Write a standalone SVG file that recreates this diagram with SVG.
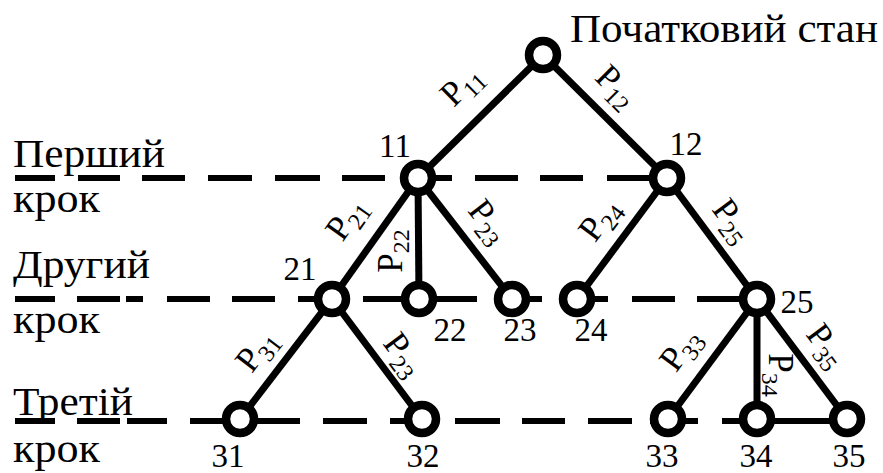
<svg xmlns="http://www.w3.org/2000/svg" width="883" height="473" viewBox="0 0 883 473">
<style>
.lvl{fill:none;stroke:#000;stroke-width:6}
.edge{fill:none;stroke:#000;stroke-width:7}
.node{fill:#fff;stroke:#000;stroke-width:8.5}
.t{font-family:"Liberation Serif","Times New Roman",serif;fill:#000}
.big{font-size:39px}
.num{font-size:33px;text-anchor:middle}
.p{font-size:35px;text-anchor:middle}
.sub{font-size:24px}
</style>
<rect width="883" height="473" fill="#fff"/>
<g id="levels">
<path class="lvl" d="M15 178H55M78 178H120M142 178H185M208 178H252M275 178H320M342 178H385M408 178H452M475 178H518M540 178H583M607 178H667"/>
<path class="lvl" d="M15 299H55M77 299H120M126 299H143M167 299H210M232 299H275M298 299H332M363 299H419M419 299H477M512 299H542M577 299H608M632 299H675M697 299H757"/>
<path class="lvl" d="M15 421H55M77 421H120M127 421H167M190 421H240M240 421H300M323 421H367M390 421H422M455 421H500M522 421H565M588 421H632M650 421H698M722 421H757M757 421H847"/>
</g>
<g id="connectors">
<line class="edge" x1="543" y1="55" x2="418" y2="178"/>
<line class="edge" x1="543" y1="55" x2="667" y2="178"/>
<line class="edge" x1="418" y1="178" x2="332" y2="299"/>
<line class="edge" x1="418" y1="178" x2="419" y2="299"/>
<line class="edge" x1="418" y1="178" x2="512" y2="299"/>
<line class="edge" x1="667" y1="178" x2="577" y2="299"/>
<line class="edge" x1="667" y1="178" x2="757" y2="299"/>
<line class="edge" x1="332" y1="299" x2="240" y2="419"/>
<line class="edge" x1="332" y1="299" x2="422" y2="419"/>
<line class="edge" x1="757" y1="299" x2="668" y2="419"/>
<line class="edge" x1="757" y1="299" x2="757" y2="419"/>
<line class="edge" x1="757" y1="299" x2="847" y2="419"/>
<text class="t p" transform="translate(469,93) rotate(-44.5)">P<tspan class="sub" dy="7">11</tspan></text>
<text class="t p" transform="translate(609,94) rotate(44.8)">P<tspan class="sub" dy="7">12</tspan></text>
<text class="t p" transform="translate(355,225) rotate(-54.6)">P<tspan class="sub" dy="7">21</tspan></text>
<text class="t p" transform="translate(402,251) rotate(-90)">P<tspan class="sub" dy="7">22</tspan></text>
<text class="t p" transform="translate(480,228) rotate(52.2)">P<tspan class="sub" dy="7">23</tspan></text>
<text class="t p" transform="translate(608,226) rotate(-53.1)">P<tspan class="sub" dy="7">24</tspan></text>
<text class="t p" transform="translate(724,227) rotate(53.4)">P<tspan class="sub" dy="7">25</tspan></text>
<text class="t p" transform="translate(265,357) rotate(-52.5)">P<tspan class="sub" dy="7">31</tspan></text>
<text class="t p" transform="translate(395,361) rotate(53.1)">P<tspan class="sub" dy="7">23</tspan></text>
<text class="t p" transform="translate(689,356) rotate(-53.4)">P<tspan class="sub" dy="7">33</tspan></text>
<text class="t p" transform="translate(769,375) rotate(90)">P<tspan class="sub" dy="7">34</tspan></text>
<text class="t p" transform="translate(818,352) rotate(53.1)">P<tspan class="sub" dy="7">35</tspan></text>
</g>
<g id="step-labels">
<text class="t big" x="13" y="167" textLength="152" lengthAdjust="spacingAndGlyphs">Перший</text>
<text class="t big" x="13" y="212" textLength="87" lengthAdjust="spacingAndGlyphs">крок</text>
<text class="t big" x="13" y="278" textLength="137" lengthAdjust="spacingAndGlyphs">Другий</text>
<text class="t big" x="13" y="333" textLength="87" lengthAdjust="spacingAndGlyphs">крок</text>
<text class="t big" x="13" y="415" textLength="120" lengthAdjust="spacingAndGlyphs">Третій</text>
<text class="t big" x="13" y="462" textLength="87" lengthAdjust="spacingAndGlyphs">крок</text>
</g>
<g id="node-root"><circle class="node" cx="543" cy="55" r="14"/><text class="t big" x="570" y="42" textLength="308" lengthAdjust="spacingAndGlyphs">Початковий стан</text></g>
<g id="node-11"><circle class="node" cx="418" cy="178" r="14"/><text class="t num" x="395" y="157">11</text></g>
<g id="node-12"><circle class="node" cx="667" cy="178" r="14"/><text class="t num" x="686" y="155">12</text></g>
<g id="node-21"><circle class="node" cx="332" cy="299" r="14"/><text class="t num" x="300" y="280">21</text></g>
<g id="node-22"><circle class="node" cx="419" cy="299" r="14"/><text class="t num" x="450" y="341">22</text></g>
<g id="node-23"><circle class="node" cx="512" cy="299" r="14"/><text class="t num" x="520" y="341">23</text></g>
<g id="node-24"><circle class="node" cx="577" cy="299" r="14"/><text class="t num" x="591" y="341">24</text></g>
<g id="node-25"><circle class="node" cx="757" cy="299" r="14"/><text class="t num" x="797" y="313">25</text></g>
<g id="node-31"><circle class="node" cx="240" cy="419" r="14"/><text class="t num" x="228" y="467">31</text></g>
<g id="node-32"><circle class="node" cx="422" cy="419" r="14"/><text class="t num" x="423" y="467">32</text></g>
<g id="node-33"><circle class="node" cx="668" cy="419" r="14"/><text class="t num" x="662" y="467">33</text></g>
<g id="node-34"><circle class="node" cx="757" cy="419" r="14"/><text class="t num" x="756" y="467">34</text></g>
<g id="node-35"><circle class="node" cx="847" cy="419" r="14"/><text class="t num" x="849" y="467">35</text></g>
</svg>
